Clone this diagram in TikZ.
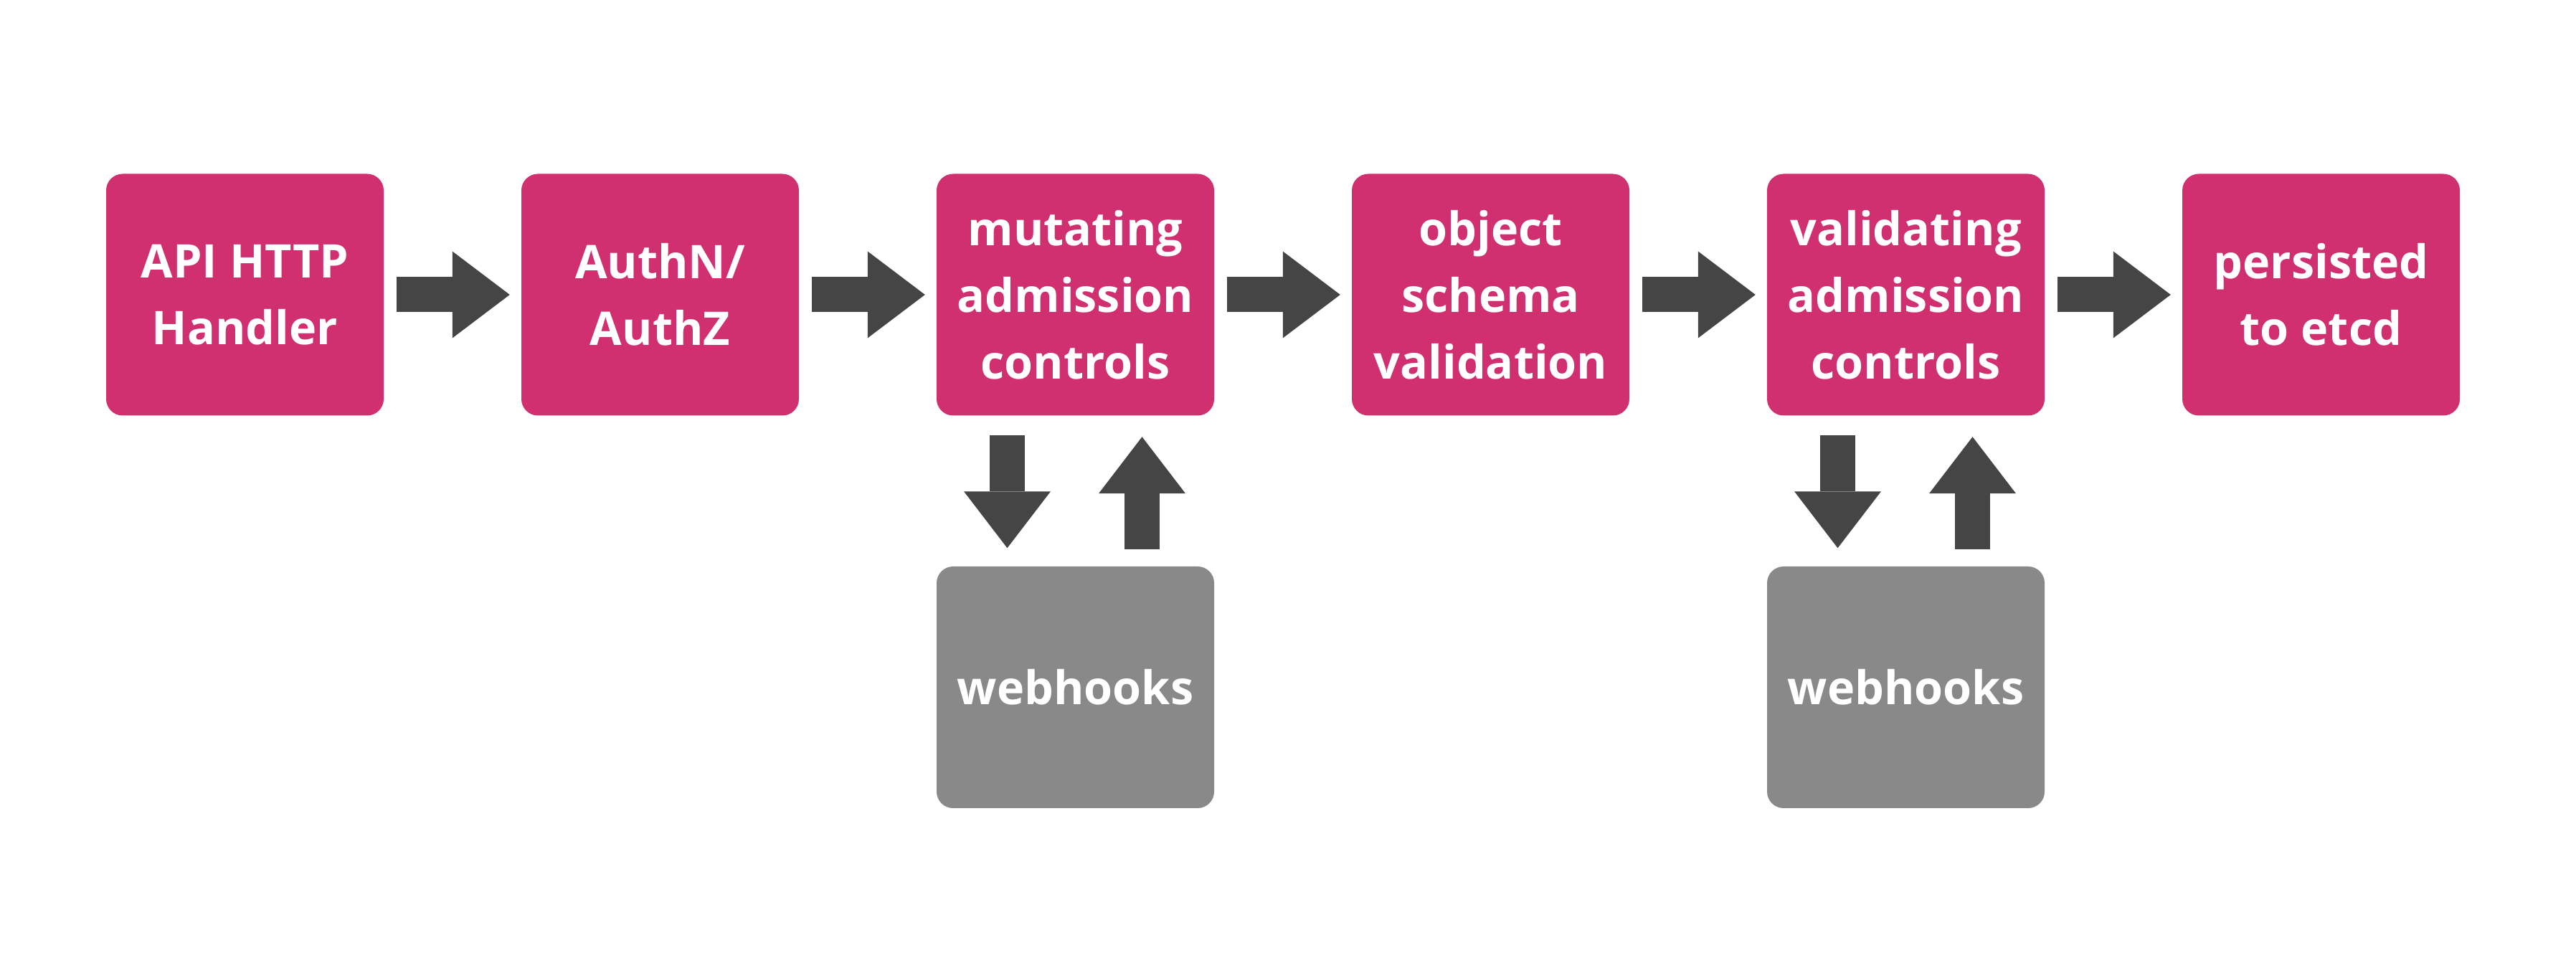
\documentclass[tikz,border=0pt]{standalone}
\usepackage{fontspec}
\setmainfont{Open Sans}
\usetikzlibrary{arrows.meta}
\definecolor{kpink}{RGB}{208,47,112}
\definecolor{kgrey}{RGB}{137,137,137}
\definecolor{kdark}{RGB}{69,69,69}
\tikzstyle{stage}=[rectangle, rounded corners=0.23cm, fill=kpink, text=white, inner sep=0pt, minimum width=3.87cm, minimum height=3.37cm, align=center, font=\bfseries\fontsize{18.4}{26.5}\selectfont]
\tikzstyle{webhook}=[stage, fill=kgrey]
\tikzstyle{flow}=[kdark, line width=0.49cm, -{Triangle[length=#1, width=1.21cm, line width=0pt]}]
\newcommand{\stage}{\node[stage]}
\newcommand{\webhook}{\node[webhook]}

\begin{document}
\begin{tikzpicture}
\useasboundingbox (0,0) rectangle (35.92,13.28);
\stage (s1) at (3.415,9.17) {API HTTP\\Handler};
\stage (s2) at (9.205,9.17) {AuthN/\\AuthZ};
\stage (s3) at (14.995,9.17) {mutating\\admission\\controls};
\stage (s4) at (20.785,9.17) {object\\schema\\validation};
\stage (s5) at (26.575,9.17) {validating\\admission\\controls};
\stage (s6) at (32.365,9.17) {persisted\\to etcd};
\webhook (w1) at (14.995,3.695) {webhooks};
\webhook (w2) at (26.575,3.695) {webhooks};
%%pipeline arrows
\foreach \a/\b in {s1/s2,s2/s3,s3/s4,s4/s5,s5/s6}{
	\draw[flow=0.8cm, shorten <=0.17cm, shorten >=0.155cm] (\a) -- (\b);}
%calls to the webhooks and back
\foreach \s/\w in {s3/w1,s5/w2}{
	\draw[flow=0.79cm, shorten <=0.27cm, shorten >=0.25cm] ([xshift=-0.95cm]\s.south) -- ([xshift=-0.95cm]\w.north);
	\draw[flow=0.79cm, shorten <=0.23cm, shorten >=0.29cm] ([xshift=0.93cm]\w.north) -- ([xshift=0.93cm]\s.south);}
\end{tikzpicture}
\end{document}
